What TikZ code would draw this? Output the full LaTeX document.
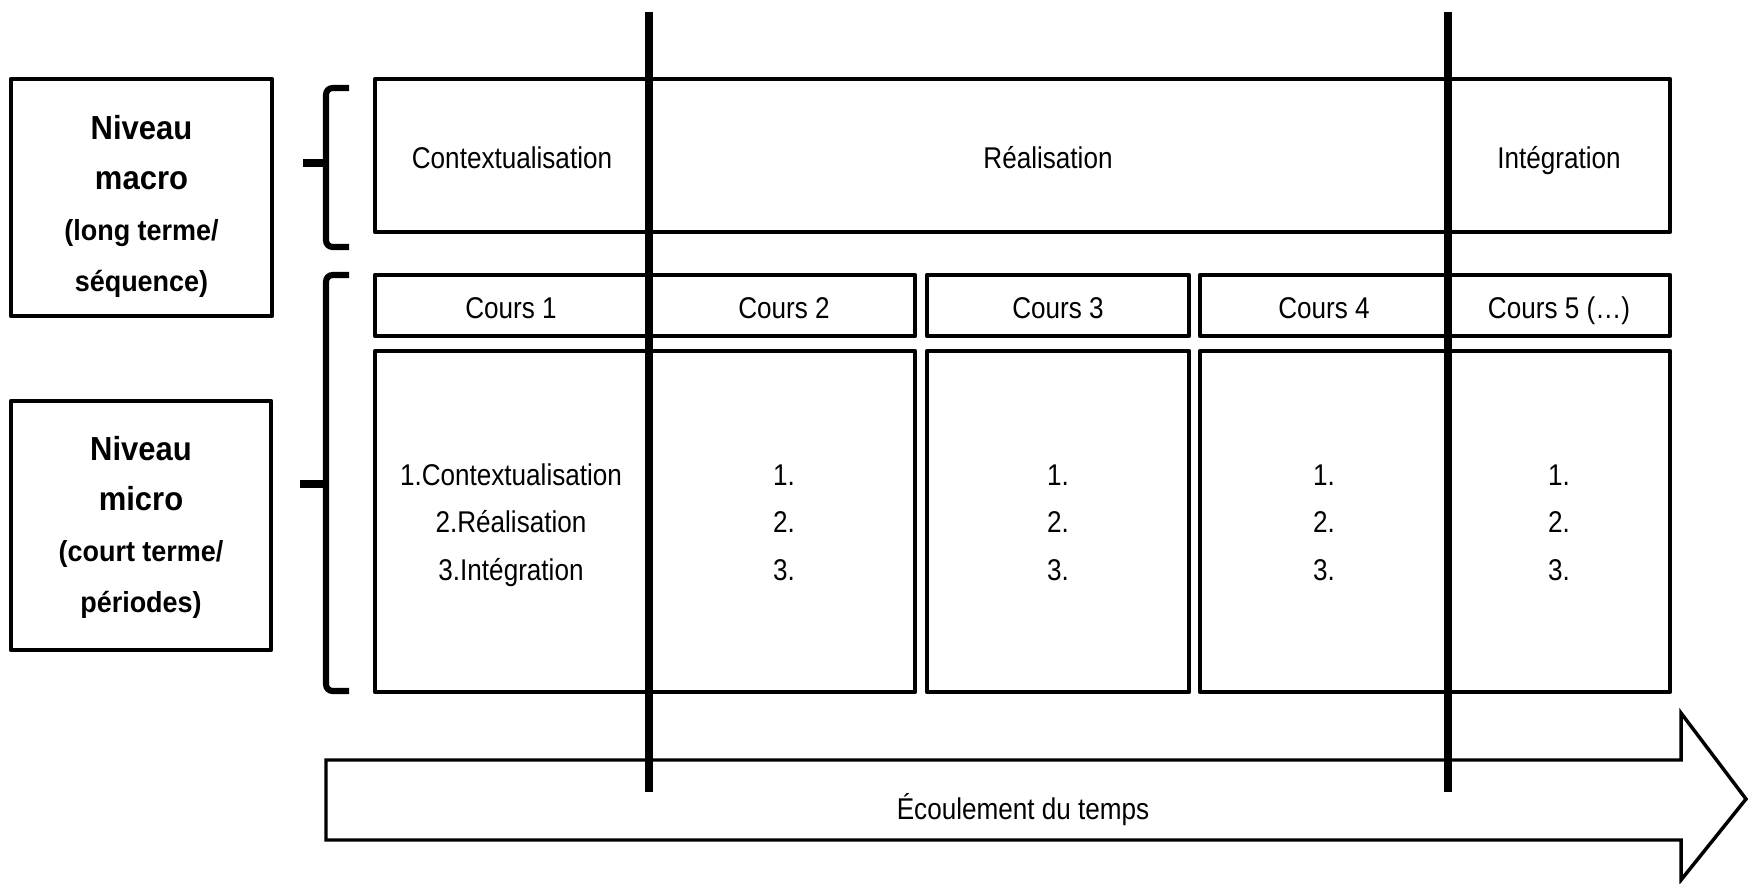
\documentclass[tikz,border=0pt]{standalone}
\usepackage{fontspec}
\newfontfamily\narrowsans{Liberation Sans}[FakeStretch=0.87]
\newfontfamily\labelsans{Liberation Sans}[FakeStretch=0.93]

\begin{document}
\begin{tikzpicture}[x=0.75pt,y=0.75pt,yscale=-1,xscale=1,
  box/.style={line width=3.4pt,line join=round},
  braceline/.style={line width=4.6pt,rounded corners=5pt},
  bracetick/.style={line width=5.4pt},
  timeline/.style={line width=5.3pt},
  flowarrow/.style={line width=2.6pt,fill=white,line join=miter},
  plaintxt/.style={font=\narrowsans\fontsize{22.5}{35.6}\selectfont,align=center,anchor=base,inner sep=0pt},
  leveltxt/.style={font=\labelsans\bfseries\fontsize{25}{37.9}\selectfont,align=center,anchor=base,inner sep=0pt}]
\path[use as bounding box] (0,0) rectangle (1749,883);

%Shape: Arrow (temps)
\draw [flowarrow] (326,760) -- (1681,760) -- (1681,713) -- (1746,799) -- (1681,880) -- (1681,840) -- (326,840) -- cycle ;

%Shape: Rectangle (niveau macro)
\draw [box] (11,79) rectangle (272,316) ;
%Shape: Rectangle (niveau micro)
\draw [box] (11,401) rectangle (271,650) ;

%Shape: Brace
\draw [braceline] (349,88) -- (326,88) -- (326,247) -- (349,247) ;
\draw [bracetick] (303,163) -- (326,163) ;
%Shape: Brace
\draw [braceline] (349,275) -- (326,275) -- (326,691) -- (349,691) ;
\draw [bracetick] (300,484) -- (326,484) ;

%Shape: Rectangle (macro)
\draw [box] (375,79) rectangle (1670,232) ;
%Shape: Rectangle (cours)
\draw [box] (375,275) rectangle (915,336) ;
\draw [box] (927,275) rectangle (1189,336) ;
\draw [box] (1200,275) rectangle (1670,336) ;
%Shape: Rectangle (contenu)
\draw [box] (375,351) rectangle (915,692) ;
\draw [box] (927,351) rectangle (1189,692) ;
\draw [box] (1200,351) rectangle (1670,692) ;

%Straight Lines
\draw [timeline] (649,12) -- (649,792) ;
%Straight Lines
\draw [timeline] (1448,12) -- (1448,792) ;

% Text Node
\draw (141.5,291) node [leveltxt] (macrolbl) {Niveau\\macro\\{\fontsize{21.75}{37.9}\selectfont (long terme/}\\{\fontsize{21.75}{37.9}\selectfont séquence)}};
% Text Node
\draw (141,612) node [leveltxt] (microlbl) {Niveau\\micro\\{\fontsize{21.75}{37.9}\selectfont (court terme/}\\{\fontsize{21.75}{37.9}\selectfont périodes)}};

% Text Node
\draw (512,168) node [plaintxt] (ctx) {Contextualisation};
% Text Node
\draw (1048,168) node [plaintxt] (real) {Réalisation};
% Text Node
\draw (1559,168) node [plaintxt] (integ) {Intégration};

% Text Node
\draw (511,318) node [plaintxt] (cours1) {Cours 1};
% Text Node
\draw (784,318) node [plaintxt] (cours2) {Cours 2};
% Text Node
\draw (1058,318) node [plaintxt] (cours3) {Cours 3};
% Text Node
\draw (1324,318) node [plaintxt] (cours4) {Cours 4};
% Text Node
\draw (1559,318) node [plaintxt] (cours5) {Cours 5 (…)};

% Text Node
\draw (511,580) node [plaintxt] (etapes1) {1.Contextualisation\\2.Réalisation\\3.Intégration};
% Text Node
\draw (784,580) node [plaintxt] (etapes2) {1.\\2.\\3.};
% Text Node
\draw (1058,580) node [plaintxt] (etapes3) {1.\\2.\\3.};
% Text Node
\draw (1324,580) node [plaintxt] (etapes4) {1.\\2.\\3.};
% Text Node
\draw (1559,580) node [plaintxt] (etapes5) {1.\\2.\\3.};

% Text Node
\draw (1023,819) node [plaintxt] (temps) {Écoulement du temps};

\end{tikzpicture}
\end{document}
